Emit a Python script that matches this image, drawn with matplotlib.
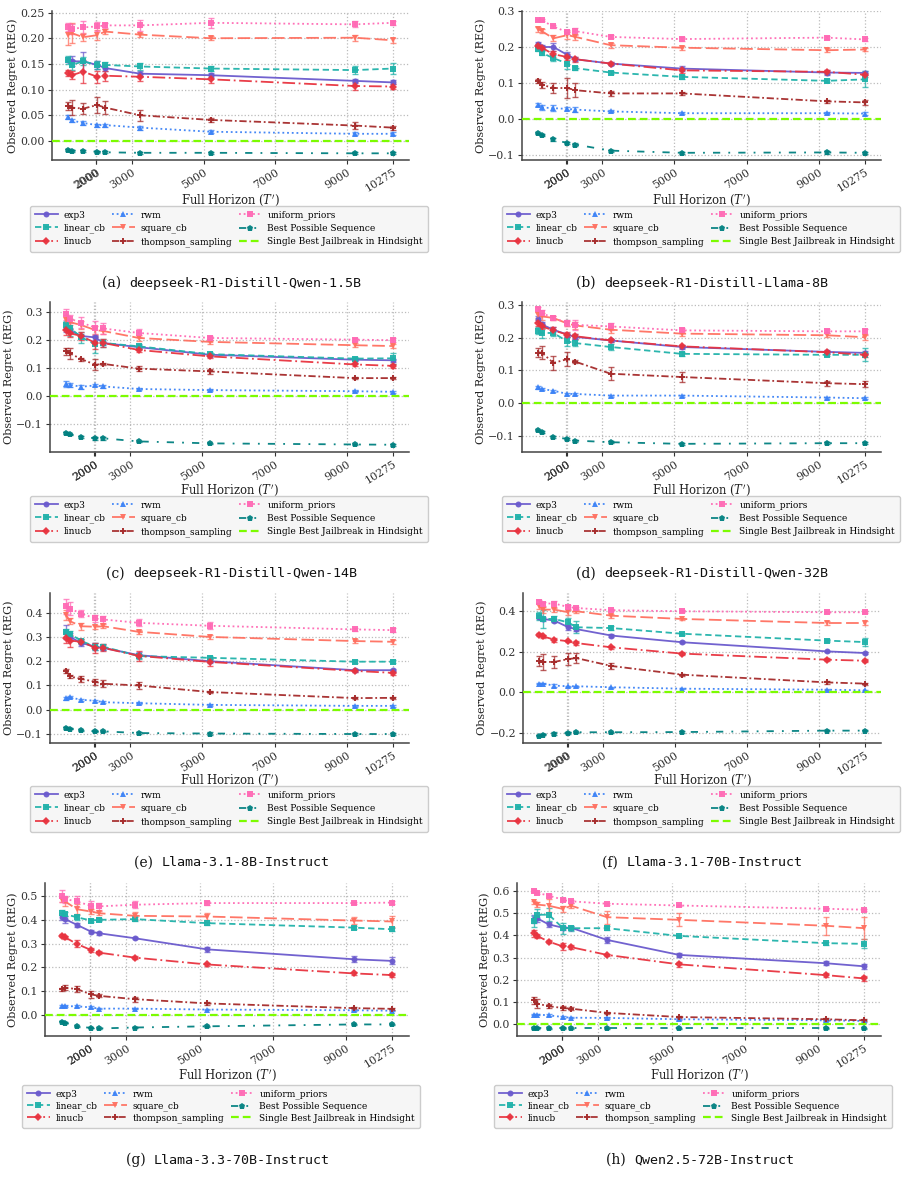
import matplotlib
matplotlib.use('Agg')
import matplotlib.pyplot as plt

# ---------------- data ----------------
HORIZONS = [1225, 1320, 1640, 2030, 2250, 3230, 5200, 9225, 10275]
XTICKS = [2000, 2010, 3000, 5000, 7000, 9000, 10275]
XTICK_LABELS = ['2000', '2000', '3000', '5000', '7000', '9000', '10275']

PANEL_LETTERS = ['a', 'b', 'c', 'd', 'e', 'f', 'g', 'h']
MODELS = ['deepseek-R1-Distill-Qwen-1.5B', 'deepseek-R1-Distill-Llama-8B',
          'deepseek-R1-Distill-Qwen-14B', 'deepseek-R1-Distill-Qwen-32B',
          'Llama-3.1-8B-Instruct', 'Llama-3.1-70B-Instruct',
          'Llama-3.3-70B-Instruct', 'Qwen2.5-72B-Instruct']

SERIES_NAMES = ['exp3', 'linear_cb', 'linucb', 'rwm', 'square_cb',
                'thompson_sampling', 'uniform_priors', 'Best Possible Sequence']
HINDSIGHT_NAME = 'Single Best Jailbreak in Hindsight'

EXP3 = [
    [0.158, 0.155, 0.155, 0.148, 0.142, 0.131, 0.128, 0.117, 0.114],
    [0.209, 0.200, 0.200, 0.178, 0.166, 0.154, 0.140, 0.129, 0.128],
    [0.245, 0.235, 0.215, 0.210, 0.190, 0.175, 0.148, 0.130, 0.128],
    [0.258, 0.241, 0.225, 0.210, 0.203, 0.192, 0.172, 0.157, 0.154],
    [0.320, 0.300, 0.275, 0.260, 0.255, 0.225, 0.200, 0.163, 0.163],
    [0.372, 0.362, 0.354, 0.321, 0.312, 0.280, 0.247, 0.202, 0.194],
    [0.415, 0.404, 0.380, 0.351, 0.344, 0.323, 0.276, 0.234, 0.227],
    [0.475, 0.478, 0.450, 0.435, 0.435, 0.380, 0.312, 0.274, 0.260]]
LINEAR_CB = [
    [0.158, 0.148, 0.155, 0.148, 0.148, 0.145, 0.141, 0.138, 0.141],
    [0.194, 0.184, 0.169, 0.154, 0.141, 0.129, 0.117, 0.106, 0.110],
    [0.255, 0.245, 0.210, 0.185, 0.190, 0.178, 0.150, 0.134, 0.135],
    [0.222, 0.215, 0.215, 0.189, 0.184, 0.172, 0.151, 0.148, 0.148],
    [0.321, 0.314, 0.283, 0.260, 0.260, 0.221, 0.214, 0.198, 0.198],
    [0.375, 0.362, 0.362, 0.345, 0.321, 0.317, 0.289, 0.255, 0.248],
    [0.432, 0.425, 0.412, 0.398, 0.401, 0.404, 0.387, 0.368, 0.361],
    [0.464, 0.494, 0.494, 0.433, 0.433, 0.433, 0.398, 0.365, 0.362]]
LINUCB = [
    [0.133, 0.128, 0.135, 0.125, 0.127, 0.125, 0.120, 0.107, 0.106],
    [0.203, 0.198, 0.180, 0.172, 0.166, 0.154, 0.135, 0.131, 0.123],
    [0.235, 0.225, 0.215, 0.190, 0.190, 0.165, 0.142, 0.113, 0.108],
    [0.246, 0.235, 0.223, 0.210, 0.205, 0.192, 0.174, 0.156, 0.148],
    [0.295, 0.285, 0.280, 0.255, 0.255, 0.222, 0.197, 0.160, 0.152],
    [0.285, 0.276, 0.260, 0.252, 0.243, 0.222, 0.191, 0.161, 0.156],
    [0.333, 0.327, 0.299, 0.273, 0.262, 0.241, 0.212, 0.174, 0.167],
    [0.410, 0.398, 0.372, 0.350, 0.347, 0.312, 0.269, 0.220, 0.205]]
RWM = [
    [0.046, 0.040, 0.035, 0.031, 0.031, 0.026, 0.018, 0.014, 0.014],
    [0.040, 0.032, 0.030, 0.028, 0.026, 0.021, 0.016, 0.016, 0.015],
    [0.042, 0.040, 0.033, 0.038, 0.034, 0.025, 0.021, 0.017, 0.015],
    [0.048, 0.043, 0.038, 0.028, 0.028, 0.023, 0.023, 0.017, 0.015],
    [0.048, 0.051, 0.041, 0.037, 0.031, 0.027, 0.020, 0.016, 0.016],
    [0.043, 0.043, 0.033, 0.030, 0.030, 0.025, 0.018, 0.013, 0.010],
    [0.035, 0.035, 0.035, 0.030, 0.025, 0.025, 0.021, 0.018, 0.016],
    [0.041, 0.041, 0.038, 0.030, 0.027, 0.026, 0.020, 0.015, 0.012]]
SQUARE_CB = [
    [0.207, 0.210, 0.202, 0.206, 0.213, 0.207, 0.200, 0.201, 0.196],
    [0.249, 0.244, 0.224, 0.233, 0.228, 0.205, 0.198, 0.191, 0.193],
    [0.274, 0.265, 0.254, 0.236, 0.233, 0.208, 0.194, 0.182, 0.179],
    [0.271, 0.266, 0.261, 0.244, 0.238, 0.225, 0.213, 0.208, 0.202],
    [0.389, 0.365, 0.344, 0.342, 0.344, 0.321, 0.300, 0.283, 0.280],
    [0.424, 0.408, 0.408, 0.395, 0.400, 0.378, 0.362, 0.342, 0.342],
    [0.486, 0.479, 0.446, 0.436, 0.429, 0.418, 0.415, 0.398, 0.394],
    [0.550, 0.540, 0.535, 0.520, 0.535, 0.483, 0.471, 0.444, 0.433]]
THOMPSON = [
    [0.068, 0.065, 0.063, 0.070, 0.065, 0.050, 0.041, 0.030, 0.026],
    [0.106, 0.095, 0.086, 0.086, 0.080, 0.071, 0.071, 0.049, 0.046],
    [0.160, 0.153, 0.132, 0.112, 0.115, 0.098, 0.088, 0.064, 0.064],
    [0.155, 0.155, 0.123, 0.135, 0.127, 0.090, 0.080, 0.061, 0.058],
    [0.160, 0.137, 0.127, 0.115, 0.107, 0.100, 0.073, 0.048, 0.049],
    [0.156, 0.150, 0.150, 0.164, 0.169, 0.130, 0.087, 0.049, 0.043],
    [0.106, 0.113, 0.108, 0.085, 0.079, 0.065, 0.047, 0.027, 0.024],
    [0.106, 0.091, 0.079, 0.071, 0.068, 0.049, 0.030, 0.020, 0.015]]
UNIFORM = [
    [0.222, 0.218, 0.221, 0.223, 0.225, 0.225, 0.230, 0.227, 0.230],
    [0.276, 0.274, 0.257, 0.241, 0.244, 0.228, 0.222, 0.226, 0.221],
    [0.293, 0.277, 0.263, 0.245, 0.242, 0.226, 0.208, 0.202, 0.200],
    [0.287, 0.276, 0.261, 0.246, 0.240, 0.235, 0.223, 0.220, 0.220],
    [0.426, 0.417, 0.396, 0.376, 0.372, 0.358, 0.346, 0.331, 0.328],
    [0.444, 0.438, 0.438, 0.421, 0.416, 0.405, 0.400, 0.395, 0.395],
    [0.503, 0.489, 0.479, 0.460, 0.458, 0.465, 0.472, 0.472, 0.474],
    [0.600, 0.593, 0.581, 0.562, 0.555, 0.544, 0.536, 0.521, 0.517]]
BEST = [
    [-0.018, -0.019, -0.019, -0.021, -0.022, -0.023, -0.023, -0.024, -0.024],
    [-0.040, -0.044, -0.057, -0.067, -0.071, -0.088, -0.094, -0.093, -0.094],
    [-0.133, -0.138, -0.146, -0.152, -0.152, -0.163, -0.170, -0.174, -0.175],
    [-0.084, -0.090, -0.104, -0.110, -0.115, -0.120, -0.125, -0.123, -0.123],
    [-0.075, -0.078, -0.085, -0.089, -0.089, -0.096, -0.098, -0.100, -0.100],
    [-0.214, -0.209, -0.204, -0.201, -0.197, -0.197, -0.196, -0.189, -0.189],
    [-0.031, -0.035, -0.050, -0.057, -0.059, -0.055, -0.050, -0.042, -0.042],
    [-0.020, -0.020, -0.020, -0.020, -0.020, -0.020, -0.020, -0.020, -0.020]]
HINDSIGHT = [0.0, 0.0, 0.0, 0.0, 0.0, 0.0, 0.0, 0.0]

EXP3_ERR = [
    [0.005, 0.010, 0.018, 0.007, 0.006, 0.005, 0.004, 0.004, 0.004],
    [0.006, 0.005, 0.010, 0.008, 0.006, 0.005, 0.008, 0.006, 0.005],
    [0.015, 0.010, 0.008, 0.010, 0.008, 0.006, 0.007, 0.005, 0.005],
    [0.010, 0.008, 0.008, 0.006, 0.008, 0.006, 0.006, 0.005, 0.005],
    [0.030, 0.015, 0.012, 0.015, 0.010, 0.012, 0.008, 0.006, 0.006],
    [0.010, 0.010, 0.008, 0.012, 0.008, 0.006, 0.004, 0.004, 0.004],
    [0.015, 0.015, 0.008, 0.006, 0.006, 0.005, 0.012, 0.012, 0.015],
    [0.020, 0.015, 0.012, 0.010, 0.010, 0.012, 0.008, 0.010, 0.010]]
LINEAR_CB_ERR = [
    [0.008, 0.010, 0.008, 0.008, 0.006, 0.007, 0.004, 0.007, 0.010],
    [0.005, 0.005, 0.008, 0.015, 0.006, 0.005, 0.006, 0.004, 0.022],
    [0.015, 0.030, 0.020, 0.030, 0.015, 0.010, 0.008, 0.006, 0.020],
    [0.010, 0.015, 0.008, 0.015, 0.008, 0.010, 0.006, 0.005, 0.020],
    [0.010, 0.010, 0.010, 0.015, 0.012, 0.010, 0.006, 0.005, 0.005],
    [0.020, 0.045, 0.015, 0.020, 0.030, 0.008, 0.005, 0.006, 0.020],
    [0.010, 0.008, 0.010, 0.006, 0.006, 0.010, 0.006, 0.006, 0.006],
    [0.025, 0.025, 0.030, 0.025, 0.012, 0.008, 0.006, 0.006, 0.020]]
LINUCB_ERR = [
    [0.006, 0.008, 0.022, 0.012, 0.010, 0.008, 0.008, 0.007, 0.005],
    [0.005, 0.005, 0.008, 0.008, 0.007, 0.005, 0.006, 0.006, 0.005],
    [0.015, 0.015, 0.015, 0.020, 0.015, 0.008, 0.006, 0.006, 0.006],
    [0.010, 0.008, 0.010, 0.008, 0.008, 0.006, 0.005, 0.005, 0.006],
    [0.020, 0.025, 0.010, 0.020, 0.015, 0.020, 0.015, 0.006, 0.008],
    [0.008, 0.008, 0.010, 0.006, 0.008, 0.006, 0.008, 0.008, 0.008],
    [0.006, 0.006, 0.015, 0.010, 0.006, 0.006, 0.008, 0.006, 0.010],
    [0.015, 0.010, 0.008, 0.015, 0.008, 0.006, 0.010, 0.010, 0.012]]
RWM_ERR = [
    [0.004, 0.003, 0.003, 0.003, 0.003, 0.004, 0.003, 0.003, 0.003],
    [0.004, 0.006, 0.008, 0.004, 0.006, 0.003, 0.003, 0.003, 0.003],
    [0.010, 0.008, 0.008, 0.004, 0.004, 0.004, 0.003, 0.003, 0.003],
    [0.004, 0.004, 0.003, 0.003, 0.003, 0.003, 0.003, 0.003, 0.003],
    [0.006, 0.004, 0.004, 0.004, 0.003, 0.003, 0.003, 0.003, 0.003],
    [0.004, 0.004, 0.006, 0.003, 0.003, 0.003, 0.003, 0.003, 0.003],
    [0.004, 0.004, 0.004, 0.004, 0.003, 0.003, 0.003, 0.003, 0.003],
    [0.004, 0.004, 0.004, 0.003, 0.003, 0.003, 0.003, 0.003, 0.003]]
SQUARE_CB_ERR = [
    [0.020, 0.020, 0.008, 0.010, 0.004, 0.004, 0.004, 0.006, 0.005],
    [0.006, 0.006, 0.008, 0.010, 0.008, 0.007, 0.006, 0.005, 0.005],
    [0.015, 0.012, 0.015, 0.015, 0.012, 0.012, 0.008, 0.008, 0.008],
    [0.010, 0.010, 0.006, 0.008, 0.012, 0.010, 0.008, 0.006, 0.008],
    [0.020, 0.012, 0.015, 0.008, 0.008, 0.008, 0.010, 0.008, 0.008],
    [0.015, 0.015, 0.010, 0.012, 0.008, 0.010, 0.006, 0.012, 0.010],
    [0.010, 0.020, 0.020, 0.012, 0.008, 0.015, 0.015, 0.015, 0.025],
    [0.008, 0.012, 0.030, 0.015, 0.012, 0.030, 0.030, 0.040, 0.050]]
THOMPSON_ERR = [
    [0.008, 0.015, 0.010, 0.015, 0.012, 0.011, 0.004, 0.006, 0.004],
    [0.006, 0.008, 0.015, 0.028, 0.020, 0.008, 0.005, 0.004, 0.008],
    [0.012, 0.020, 0.005, 0.020, 0.005, 0.010, 0.008, 0.004, 0.004],
    [0.015, 0.020, 0.022, 0.022, 0.005, 0.020, 0.015, 0.008, 0.010],
    [0.008, 0.008, 0.012, 0.012, 0.015, 0.015, 0.005, 0.004, 0.004],
    [0.025, 0.040, 0.030, 0.030, 0.025, 0.015, 0.005, 0.006, 0.005],
    [0.008, 0.010, 0.012, 0.015, 0.006, 0.010, 0.006, 0.005, 0.005],
    [0.015, 0.020, 0.008, 0.008, 0.006, 0.005, 0.004, 0.004, 0.004]]
UNIFORM_ERR = [
    [0.008, 0.010, 0.012, 0.008, 0.005, 0.010, 0.010, 0.006, 0.004],
    [0.003, 0.003, 0.004, 0.006, 0.010, 0.004, 0.005, 0.004, 0.004],
    [0.020, 0.015, 0.020, 0.025, 0.020, 0.015, 0.008, 0.006, 0.008],
    [0.008, 0.010, 0.006, 0.010, 0.015, 0.012, 0.008, 0.006, 0.008],
    [0.030, 0.025, 0.015, 0.015, 0.015, 0.015, 0.015, 0.006, 0.008],
    [0.010, 0.010, 0.015, 0.008, 0.006, 0.006, 0.005, 0.005, 0.005],
    [0.025, 0.015, 0.025, 0.020, 0.015, 0.015, 0.010, 0.006, 0.008],
    [0.004, 0.004, 0.006, 0.006, 0.006, 0.004, 0.004, 0.004, 0.004]]
BEST_ERR = [
    [0.002, 0.002, 0.002, 0.002, 0.002, 0.002, 0.002, 0.002, 0.002],
    [0.002, 0.002, 0.003, 0.003, 0.003, 0.003, 0.003, 0.003, 0.003],
    [0.003, 0.003, 0.003, 0.005, 0.005, 0.003, 0.003, 0.003, 0.003],
    [0.003, 0.003, 0.004, 0.003, 0.003, 0.003, 0.003, 0.003, 0.003],
    [0.003, 0.003, 0.003, 0.003, 0.003, 0.005, 0.005, 0.003, 0.003],
    [0.003, 0.003, 0.006, 0.004, 0.003, 0.003, 0.003, 0.003, 0.003],
    [0.002, 0.002, 0.002, 0.002, 0.002, 0.002, 0.002, 0.002, 0.002],
    [0.002, 0.002, 0.002, 0.002, 0.002, 0.002, 0.002, 0.002, 0.002]]

YTICKS = [
    [0.00, 0.05, 0.10, 0.15, 0.20, 0.25],
    [-0.1, 0.0, 0.1, 0.2, 0.3],
    [-0.1, 0.0, 0.1, 0.2, 0.3],
    [-0.1, 0.0, 0.1, 0.2, 0.3],
    [-0.1, 0.0, 0.1, 0.2, 0.3, 0.4],
    [-0.2, 0.0, 0.2, 0.4],
    [0.0, 0.1, 0.2, 0.3, 0.4, 0.5],
    [0.0, 0.1, 0.2, 0.3, 0.4, 0.5, 0.6]]

# ---------------- styling / layout ----------------
W, H, DPI = 909, 1192, 100
plt.rcParams['font.family'] = ['DejaVu Serif']
plt.rcParams['mathtext.fontset'] = 'dejavuserif'

fig = plt.figure(figsize=(W / DPI, H / DPI), dpi=DPI)
fig.patch.set_facecolor('white')

YLIMS = [(-0.037, 0.253), (-0.114, 0.300), (-0.201, 0.337), (-0.150, 0.310),
         (-0.137, 0.481), (-0.250, 0.490), (-0.091, 0.557), (-0.056, 0.638)]

# axes boxes in pixels: left, top, right, bottom
BOXES = [(52, 11, 409, 160), (522, 11, 881, 160),
         (50, 302, 409, 452), (522, 302, 881, 452),
         (50, 593, 409, 743), (523, 593, 881, 743),
         (45, 883, 409, 1036), (517, 883, 881, 1036)]
XLABEL_Y = [200, 200, 490, 490, 780, 780, 1075, 1075]
LEG_BOX = [(30, 206), (502, 206), (30, 496), (502, 496),
           (30, 786), (502, 786), (22, 1085), (494, 1085)]
CAPTION_POS = [(232, 283), (702, 283), (232, 574), (702, 574),
               (232, 863), (702, 863), (228, 1160), (700, 1160)]

STYLES = [
    (EXP3, EXP3_ERR, '#6A5ACD', '-', 'o', 4.3),
    (LINEAR_CB, LINEAR_CB_ERR, '#20B2AA', (0, (3.5, 2)), 's', 4.3),
    (LINUCB, LINUCB_ERR, '#E8333F', (0, (7, 2, 1, 2)), 'D', 3.8),
    (RWM, RWM_ERR, '#3B82F6', (0, (1, 1.6)), '^', 4.8),
    (SQUARE_CB, SQUARE_CB_ERR, '#FF7060', (0, (7, 2.5)), 'v', 4.8),
    (THOMPSON, THOMPSON_ERR, '#A52A2A', (0, (4, 1.5, 1, 1.5)), 'P', 4.3),
    (UNIFORM, UNIFORM_ERR, '#FF69B4', (0, (1, 1.6)), 's', 4.3),
    (BEST, BEST_ERR, '#008080', (0, (4, 4.5, 1, 4.5)), 'p', 4.8),
]
HINDSIGHT_COLOR = '#7CFC00'


def px2fig(x, y):
    return x / W, 1 - y / H


for i in range(8):
    l, t, r, b = BOXES[i]
    ax = fig.add_axes([l / W, 1 - b / H, (r - l) / W, (b - t) / H])
    handles = []
    for (vals, errs, color, ls, mk, ms), name in zip(STYLES, SERIES_NAMES):
        ax.errorbar(HORIZONS, vals[i], yerr=errs[i], fmt='none', ecolor=color,
                    elinewidth=1.0, capsize=2.5, capthick=1.0, alpha=0.75, zorder=2)
        ln, = ax.plot(HORIZONS, vals[i], linestyle=ls, color=color, marker=mk,
                      markersize=ms, markeredgewidth=0, linewidth=1.3,
                      alpha=0.95, label=name, zorder=3)
        handles.append(ln)
    hl = ax.axhline(HINDSIGHT[i], color=HINDSIGHT_COLOR, linestyle=(0, (3.5, 1.8)),
                    linewidth=1.6, label=HINDSIGHT_NAME, zorder=4)
    handles.append(hl)

    ax.set_xlim(770, 10730)
    ax.set_ylim(*YLIMS[i])
    ax.set_yticks(YTICKS[i])
    ax.set_xticks(XTICKS)
    ax.set_xticklabels(XTICK_LABELS, rotation=32, ha='right', rotation_mode='anchor')
    ax.grid(True, linestyle=':', color='#bbbbbb', linewidth=0.9)
    ax.set_axisbelow(True)
    for s in ['top', 'right']:
        ax.spines[s].set_visible(False)
    for s in ['left', 'bottom']:
        ax.spines[s].set_color('#444444')
        ax.spines[s].set_linewidth(1.1)
    ax.tick_params(axis='both', labelsize=7.9, length=3, width=0.8,
                   colors='#333333', pad=2)
    ax.set_ylabel('Observed Regret (REG)', fontsize=8.1, color='#222222', labelpad=2)

    cx = (l + r) / 2
    fx, fy = px2fig(cx, XLABEL_Y[i])
    fig.text(fx, fy, "Full Horizon ($T'$)", ha='center', va='center',
             fontsize=8.4, color='#222222')

    lx, ly = px2fig(*LEG_BOX[i])
    small = i >= 6
    fig.legend(handles=handles, loc='upper left', bbox_to_anchor=(lx, ly),
               ncol=3, fontsize=6.5, frameon=True, fancybox=True,
               facecolor='#f6f6f6', edgecolor='#cccccc', framealpha=1.0,
               handlelength=2.6, handletextpad=0.6, columnspacing=0.7,
               labelspacing=0.3 if small else 0.45, borderpad=0.5,
               borderaxespad=0.0)

# captions: "(x)" in serif followed by model name in monospace
cap_objs = []
for i in range(8):
    fx, fy = px2fig(*CAPTION_POS[i])
    t1 = fig.text(fx, fy, '(' + PANEL_LETTERS[i] + ') ', ha='left', va='center',
                  fontsize=10, color='#111111')
    t2 = fig.text(fx, fy, MODELS[i], ha='left', va='center',
                  fontsize=9.6, family='DejaVu Sans Mono', color='#111111')
    cap_objs.append((t1, t2, fx, fy))

fig.canvas.draw()
rend = fig.canvas.get_renderer()
for t1, t2, fx, fy in cap_objs:
    w1 = t1.get_window_extent(rend).width / W
    w2 = t2.get_window_extent(rend).width / W
    gap = 4 / W
    x0 = fx - (w1 + gap + w2) / 2
    t1.set_x(x0)
    t2.set_x(x0 + w1 + gap)

fig.savefig('out.png', dpi=DPI, facecolor='white')
